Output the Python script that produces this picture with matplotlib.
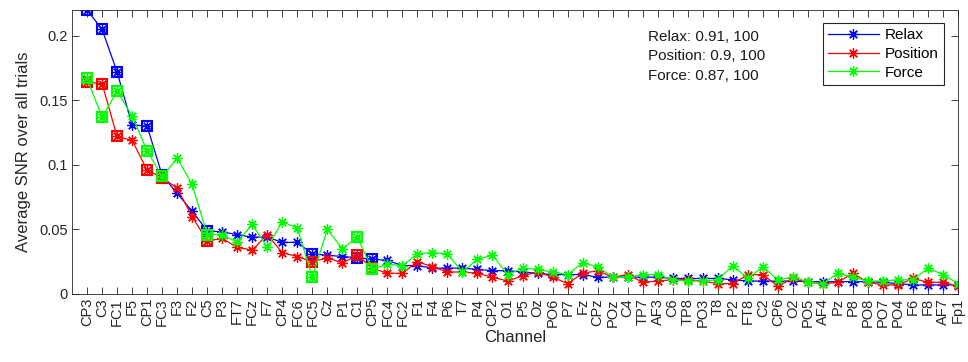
import numpy as np
import matplotlib.pyplot as plt

plt.rcParams['font.family'] = ['Liberation Sans', 'DejaVu Sans']

channels = ['CP3', 'C3', 'FC1', 'F5', 'CP1', 'FC3', 'F3', 'F2', 'C5', 'P3',
            'FT7', 'FCz', 'F7', 'CP4', 'FC6', 'FC5', 'Cz', 'P1', 'C1', 'CP5',
            'FC4', 'FC2', 'F1', 'F4', 'P6', 'T7', 'P4', 'CP2', 'O1', 'P5',
            'Oz', 'PO6', 'P7', 'Fz', 'CPz', 'POz', 'C4', 'TP7', 'AF3', 'C6',
            'TP8', 'PO3', 'T8', 'P2', 'FT8', 'C2', 'CP6', 'O2', 'PO5', 'AF4',
            'Pz', 'P8', 'PO8', 'PO7', 'PO4', 'F6', 'F8', 'AF7', 'Fp1']

relax = [0.220, 0.205, 0.172, 0.131, 0.130, 0.092, 0.078, 0.064, 0.049, 0.048,
         0.046, 0.044, 0.044, 0.040, 0.040, 0.031, 0.030, 0.029, 0.028, 0.027,
         0.026, 0.022, 0.022, 0.020, 0.020, 0.020, 0.019, 0.018, 0.018, 0.017,
         0.016, 0.015, 0.015, 0.015, 0.013, 0.013, 0.013, 0.013, 0.013, 0.012,
         0.012, 0.012, 0.012, 0.011, 0.010, 0.010, 0.010, 0.010, 0.0095, 0.0095,
         0.0095, 0.0095, 0.0095, 0.009, 0.008, 0.007, 0.007, 0.007, 0.007]

position = [0.164, 0.163, 0.122, 0.119, 0.096, 0.090, 0.082, 0.060, 0.041, 0.043,
            0.036, 0.034, 0.046, 0.032, 0.029, 0.025, 0.028, 0.024, 0.030, 0.020,
            0.016, 0.016, 0.025, 0.021, 0.017, 0.017, 0.016, 0.013, 0.010, 0.014,
            0.017, 0.013, 0.008, 0.016, 0.018, 0.013, 0.015, 0.009, 0.010, 0.011,
            0.011, 0.010, 0.008, 0.008, 0.015, 0.015, 0.006, 0.012, 0.009, 0.008,
            0.009, 0.016, 0.009, 0.007, 0.007, 0.012, 0.009, 0.009, 0.006]

force = [0.167, 0.137, 0.157, 0.138, 0.111, 0.091, 0.105, 0.085, 0.046, 0.046,
         0.040, 0.054, 0.036, 0.056, 0.051, 0.013, 0.050, 0.035, 0.044, 0.019,
         0.023, 0.022, 0.031, 0.032, 0.031, 0.017, 0.027, 0.030, 0.015, 0.020,
         0.019, 0.017, 0.015, 0.024, 0.021, 0.013, 0.013, 0.015, 0.015, 0.011,
         0.010, 0.010, 0.011, 0.022, 0.012, 0.021, 0.011, 0.013, 0.0095, 0.008,
         0.016, 0.013, 0.010, 0.010, 0.011, 0.011, 0.020, 0.015, 0.008]

# channels marked significant in all three conditions
significant = ['CP3', 'C3', 'FC1', 'CP1', 'FC3', 'C5', 'FC5', 'C1', 'CP5']

stats = ['Relax: 0.91, 100', 'Position: 0.9, 100', 'Force: 0.87, 100']

x = np.arange(1, len(channels) + 1)
sig_idx = [channels.index(c) for c in significant]
asterisk = (8, 2, 0)

fig = plt.figure(figsize=(9.68, 3.62), dpi=100)
ax = fig.add_axes([0.0744, 0.188, 0.9153, 0.7844])

series = [('Relax', relax, (0, 0, 1)),
          ('Position', position, (1, 0, 0)),
          ('Force', force, (0, 1, 0))]

for name, vals, col in series:
    vals = np.array(vals)
    ax.plot(x, vals, color=col, lw=0.9, marker=asterisk, ms=7.5, mew=0.9,
            label=name)
    ax.plot(x[sig_idx], vals[sig_idx], ls='none', marker='s', ms=6.5,
            mfc='none', mec=col, mew=1.5)

ax.set_xlim(0, len(channels))
ax.set_ylim(0, 0.22)
ax.set_xticks(x)
ax.set_xticklabels(channels, rotation=90, fontsize=10.5)
ax.set_yticks([0, 0.05, 0.1, 0.15, 0.2])
ax.set_yticklabels(['0', '0.05', '0.1', '0.15', '0.2'], fontsize=10.5)
ax.tick_params(direction='in', top=True, right=True, length=5, width=0.6,
               colors=(0.15, 0.15, 0.15), pad=3)
for s in ax.spines.values():
    s.set_color((0.15, 0.15, 0.15))
    s.set_linewidth(0.6)

ax.set_xlabel('Channel', fontsize=12, color=(0.15, 0.15, 0.15), labelpad=2)
ax.set_ylabel('Average SNR over all trials', fontsize=12,
              color=(0.15, 0.15, 0.15), labelpad=6)

ax.text(0.650, 0.93, '\n'.join(stats), transform=ax.transAxes, fontsize=11,
        va='top', ha='left', linespacing=1.5, color=(0.1, 0.1, 0.1))

leg = ax.legend(loc='upper right', bbox_to_anchor=(0.984, 0.954), fontsize=11,
                handlelength=3.3, borderpad=0.35, labelspacing=0.3,
                fancybox=False, framealpha=1, edgecolor=(0.15, 0.15, 0.15),
                handletextpad=0.4, borderaxespad=0)
leg.get_frame().set_linewidth(0.8)

fig.savefig('out.png', dpi=100)
